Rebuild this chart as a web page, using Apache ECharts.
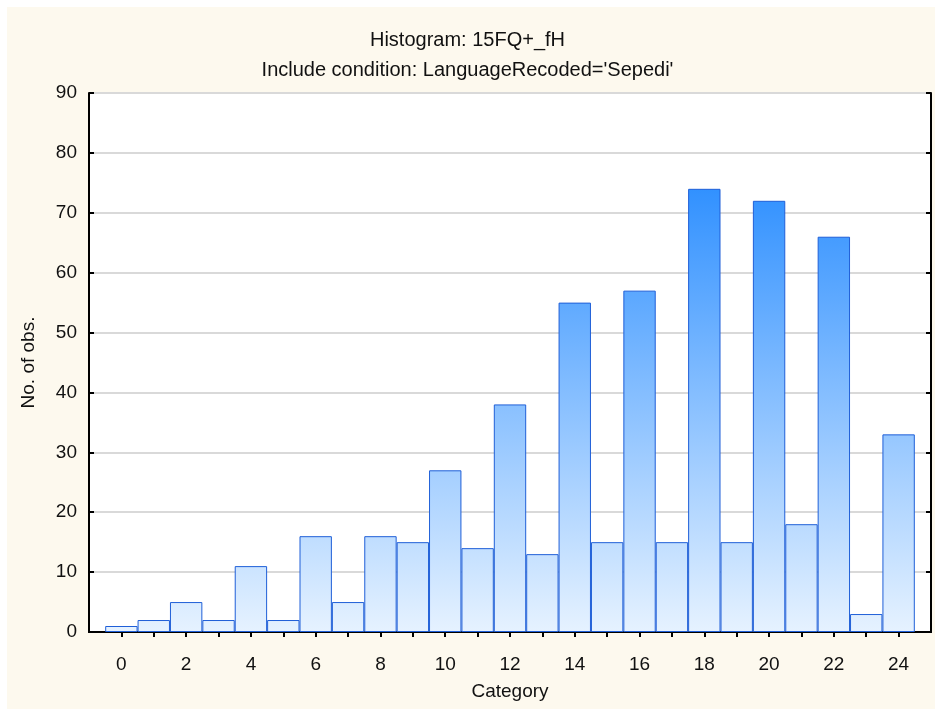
<!DOCTYPE html>
<html>
<head>
<meta charset="utf-8">
<script src="https://cdn.jsdelivr.net/npm/echarts@6/dist/echarts.min.js"></script>
<style>
  html, body { margin: 0; padding: 0; background: #fff; }
  #chart { width: 935px; height: 709px; }
</style>
</head>
<body>
<div id="chart"></div>
<script>
// histogram data
const categories = ['0','1','2','3','4','5','6','7','8','9','10','11','12','13','14','15','16','17','18','19','20','21','22','23','24'];
const counts = [1, 2, 5, 2, 11, 2, 16, 5, 16, 15, 27, 14, 38, 13, 55, 15, 57, 15, 74, 15, 72, 18, 66, 3, 33];
const yTicks = { min: 0, max: 90, step: 10 };

// pad one empty slot on each side so the bars sit away from the frame
const axisCats = [''].concat(categories, ['']);
const barData = ['-'].concat(counts, ['-']);
const isInner = (idx) => idx > 0 && idx < axisCats.length - 1;

const FONT = '"Liberation Sans", Arial, sans-serif';
const myChart = echarts.init(document.getElementById('chart'));

const gridTop = 93, gridBottom = 77;
const barFill = new echarts.graphic.LinearGradient(0, gridTop, 0, 709 - gridBottom, [
  { offset: 0, color: '#0a7cff' },
  { offset: 1, color: '#e6f2ff' }
], true);

const tickStyle = { color: '#000', width: 2 };

const option = {
  animation: false,
  backgroundColor: '#fff',
  graphic: [{
    type: 'rect', z: -10, silent: true,
    shape: { x: 7, y: 7, width: 928, height: 702 },
    style: { fill: '#fdf9ee' }
  }],
  title: [
    { text: 'Histogram: 15FQ+_fH', left: 'center', top: 25,
      textStyle: { fontFamily: FONT, fontSize: 20, fontWeight: 'normal', color: '#111' } },
    { text: "Include condition: LanguageRecoded='Sepedi'", left: 'center', top: 55,
      textStyle: { fontFamily: FONT, fontSize: 20, fontWeight: 'normal', color: '#111' } }
  ],
  grid: {
    left: 89, right: 4, top: gridTop, bottom: gridBottom,
    show: true, backgroundColor: '#fff', borderWidth: 0
  },
  xAxis: [{
    type: 'category',
    data: axisCats,
    boundaryGap: false,
    position: 'bottom',
    name: 'Category',
    nameLocation: 'middle',
    nameGap: 50,
    nameTextStyle: { fontFamily: FONT, fontSize: 19, color: '#111' },
    axisLine: { lineStyle: tickStyle },
    axisTick: { inside: true, interval: (idx) => isInner(idx), length: 5, lineStyle: tickStyle },
    axisLabel: { interval: (idx) => idx % 2 === 1, margin: 23, fontFamily: FONT, fontSize: 19, color: '#111' }
  }, {
    type: 'category',
    data: axisCats,
    boundaryGap: false,
    position: 'top',
    axisLine: { lineStyle: tickStyle },
    axisTick: { inside: true, interval: (idx) => isInner(idx), length: 5, lineStyle: tickStyle },
    axisLabel: { show: false }
  }],
  yAxis: [{
    type: 'value',
    min: yTicks.min, max: yTicks.max, interval: yTicks.step,
    position: 'left',
    name: 'No. of obs.',
    nameLocation: 'middle',
    nameGap: 51,
    nameTextStyle: { fontFamily: FONT, fontSize: 19, color: '#111' },
    axisLine: { show: true, lineStyle: tickStyle },
    axisTick: { show: true, inside: true, length: 5, lineStyle: tickStyle },
    axisLabel: { margin: 12, fontFamily: FONT, fontSize: 19, color: '#111' },
    splitLine: { show: true, lineStyle: { color: '#d9d9d9', width: 2 } }
  }, {
    type: 'value',
    min: yTicks.min, max: yTicks.max, interval: yTicks.step,
    position: 'right',
    axisLine: { show: true, lineStyle: tickStyle },
    axisTick: { show: true, inside: true, length: 5, lineStyle: tickStyle },
    axisLabel: { show: false },
    splitLine: { show: false }
  }],
  series: [{
    type: 'bar',
    data: barData,
    barCategoryGap: '0%',
    itemStyle: { color: barFill, borderColor: '#1f5fd8', borderWidth: 1 }
  }]
};

option && myChart.setOption(option);
</script>
</body>
</html>
